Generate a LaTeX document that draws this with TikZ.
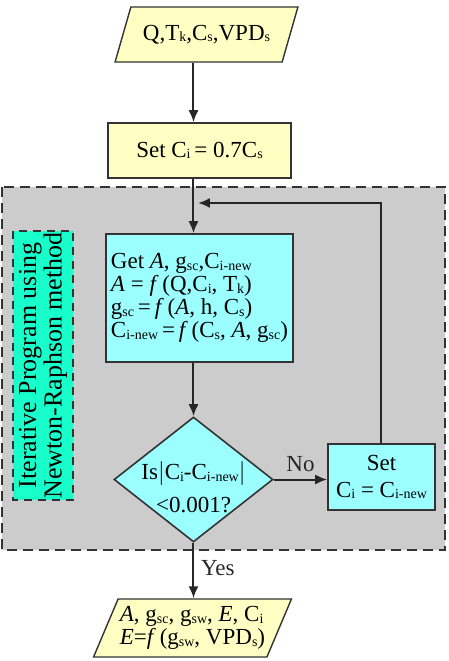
\documentclass[tikz,border=0pt]{standalone}
\usepackage{fontspec}
\setmainfont{Liberation Serif}
\usetikzlibrary{shapes.geometric,arrows.meta}
\definecolor{inputyellow}{HTML}{FFFFC4}
\definecolor{boxcyan}{HTML}{9BFFFF}
\definecolor{labelmint}{HTML}{19FFCC}
\definecolor{loopgray}{HTML}{CCCCCC}
\definecolor{edgegray}{HTML}{333333}
\newcommand{\subtxt}[1]{\raisebox{-0.15ex}{\fontsize{7}{7}\selectfont #1}}

\begin{document}
\begin{tikzpicture}[x=0.5pt,y=-0.5pt,font=\fontsize{11.5}{11.5}\selectfont,
  io/.style={trapezium,trapezium stretches=true,draw=edgegray,line width=0.7pt,fill=inputyellow,inner sep=0pt},
  proc/.style={rectangle,draw=edgegray,line width=0.8pt,fill=boxcyan},
  arr/.style={-{Latex[length=6pt,width=5pt]},line width=1pt,black!85}]
\useasboundingbox (0,0) rectangle (449,661);
\draw[fill=loopgray,draw=edgegray,dash pattern=on 5pt off 3pt,line width=0.6pt] (2,187) rectangle (445,550);

\node[io,trapezium left angle=55,trapezium right angle=125,minimum width=91.5pt,minimum height=27.5pt] (in) at (206.5,34.5)
   {Q,T\subtxt{k},C\subtxt{s},VPD\subtxt{s}};
\node[proc,fill=inputyellow,minimum width=91.5pt,minimum height=27.5pt] (set) at (199.5,150.5)
   {Set C\subtxt{i}\,= 0.7C\subtxt{s}};
\node[proc,minimum width=91.5pt,minimum height=64pt,align=left,inner xsep=2.5pt] (get) at (199.5,298)
   {Get \textit{A}, g\subtxt{sc},C\subtxt{i-new}\\
    \textit{A} = \textit{f}\,(Q,C\subtxt{i}, T\subtxt{k})\\
    g\subtxt{sc}\,=\,\textit{f}\,(\textit{A}, h, C\subtxt{s})\\
    C\subtxt{i-new}\,=\,\textit{f}\,(C\subtxt{s}, \textit{A}, g\subtxt{sc})};
\node[proc,diamond,aspect=1.27,inner xsep=0pt,inner ysep=-7pt,minimum width=79.5pt,minimum height=62.5pt,align=center] (dia) at (193.5,479.5)
   {\rule{0pt}{17pt}Is$\big|$C\subtxt{i}-C\subtxt{i-new}$\big|$\\[5pt] <0.001?};
\node[proc,minimum width=53.5pt,minimum height=33pt,align=center] (upd) at (381.5,477)
   {Set\\[2pt] C\subtxt{i} = C\subtxt{i-new}};
\node[draw=edgegray,dash pattern=on 4pt off 3pt,line width=0.7pt,fill=labelmint,rotate=90,
   minimum width=134.5pt,minimum height=30pt,align=center,inner sep=0pt,font=\fontsize{13}{10.5}\selectfont] (lbl) at (43,365.5)
   {Iterative Program using\\ Newton-Raphson method};
\node[io,trapezium left angle=61,trapezium right angle=119,minimum width=99.5pt,minimum height=29pt,align=left] (out) at (192.5,628)
   {\textit{A}, g\subtxt{sc}, g\subtxt{sw}, \textit{E}, C\subtxt{i}\\
    \textit{E}=\textit{f}\,(g\subtxt{sw}, VPD\subtxt{s})};
\coordinate (back) at (198,203);

\draw[arr] (in.south -| dia) -- (set.north -| dia);
\draw[arr] (set.south -| dia) -- (get.north -| dia);
\draw[arr] (get.south -| dia) -- (dia.north);
\draw[arr] (dia.east) -- node[above] {No} (dia.east -| upd.west);
\draw[arr] (upd.north) |- (back);
\draw[arr] (dia.south) -- node[right,pos=0.45] {Yes} (out.north -| dia);
\end{tikzpicture}
\end{document}
